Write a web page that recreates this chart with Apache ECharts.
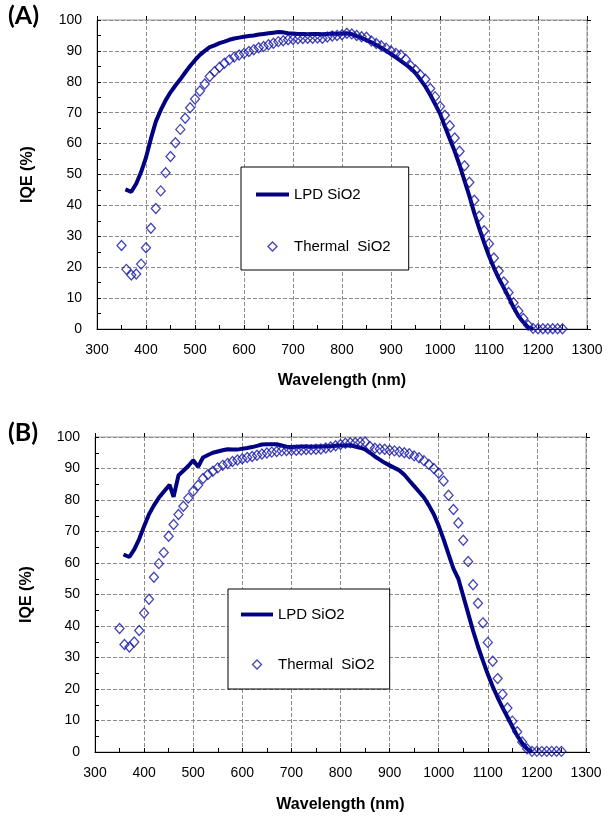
<!DOCTYPE html>
<html>
<head>
<meta charset="utf-8">
<title>IQE</title>
<script src="https://cdn.jsdelivr.net/npm/echarts@6/dist/echarts.min.js"></script>
<style>
  html, body { margin: 0; background: #fff; }
  #chart { width: 616px; height: 820px; }
</style>
</head>
<body>
<div id="chart"></div>
<script>
// wavelengths (nm) of the thermal oxide points, shared by both panels
const thermalWave = [
  350, 360, 370, 380, 390, 400, 410, 420, 430, 440, 450, 460, 470, 480, 490,
  500, 510, 520, 530, 540, 550, 560, 570, 580, 590, 600, 610, 620, 630, 640,
  650, 660, 670, 680, 690, 700, 710, 720, 730, 740, 750, 760, 770, 780, 790,
  800, 810, 820, 830, 840, 850, 860, 870, 880, 890, 900, 910, 920, 930, 940,
  950, 960, 970, 980, 990, 1000, 1010, 1020, 1030, 1040, 1050, 1060, 1070, 1080, 1090,
  1100, 1110, 1120, 1130, 1140, 1150, 1160, 1170, 1180, 1190, 1200, 1210, 1220, 1230, 1240,
  1250
]
// (A) thermal SiO2
const thermalA = [
  27, 19.3, 17.5, 17.8, 21, 26.3, 32.6, 39, 44.7, 50.6, 55.8, 60.3, 64.6, 68.2, 71.6,
  74.4, 77, 79.3, 81.7, 83.3, 84.7, 86, 87.1, 88, 88.7, 89.2, 89.8, 90.4, 91, 91.4,
  92, 92.5, 93, 93.3, 93.6, 93.8, 93.9, 94, 94.1, 94.1, 94.2, 94.1, 94.5, 94.8, 95,
  95.2, 95.7, 95.5, 95, 94.6, 94.4, 93.2, 92.4, 91.7, 90.9, 90, 89.2, 88.7, 87.3, 85.2,
  83.8, 82.2, 80.8, 77.8, 75.2, 72, 69.2, 65.8, 61.8, 57.5, 52.8, 47.5, 41.7, 36.5, 31.8,
  27.6, 23, 18.8, 15.2, 11.8, 8.5, 5.8, 3.4, 1.2, 0.2, 0.1, 0.1, 0.1, 0.1, 0.1,
  0.1
]
// (B) thermal SiO2
const thermalB = [
  39.2, 34.1, 33.3, 34.9, 38.6, 44.1, 48.5, 55.5, 59.8, 63.3, 68.5, 72.2, 75.4, 78, 80.6,
  82.8, 84.7, 86.8, 88.1, 89.1, 90.2, 91, 91.6, 92.2, 92.7, 93.1, 93.5, 93.8, 94.2, 94.6,
  94.9, 95.2, 95.4, 95.6, 95.7, 95.8, 95.8, 95.9, 96, 96, 96.1, 96.2, 96.5, 96.8, 97.2,
  97.6, 98, 98.2, 98.2, 98.3, 98.4, 97, 96.4, 96.2, 96.1, 95.8, 95.6, 95.3, 95, 94.7,
  94, 93.4, 92.5, 91.3, 90, 88.5, 86, 81.5, 77, 72.7, 67.2, 60.5, 53.1, 47.2, 41,
  34.8, 28.8, 23.3, 18.3, 14, 9.8, 6.4, 3.2, 1, 0.2, 0.2, 0.2, 0.2, 0.2, 0.2,
  0.2
]

// (A) LPD SiO2 curve
const lpdAWave = [
  358, 370, 380, 390, 400, 410, 420, 430, 440, 450, 460, 470, 480, 490,
  500, 510, 520, 530, 540, 550, 560, 570, 580, 590, 600, 610, 620, 630, 640,
  650, 660, 670, 680, 690, 700, 710, 720, 730, 740, 750, 760, 770, 780, 790,
  800, 810, 820, 830, 840, 850, 860, 870, 880, 890, 900, 910, 920, 930, 940,
  950, 960, 970, 980, 990, 1000, 1010, 1020, 1030, 1040, 1050, 1060, 1070, 1080, 1090,
  1100, 1110, 1120, 1130, 1140, 1150, 1160, 1170, 1180, 1190
]
const lpdAIqe = [
  45.2, 44.4, 47, 50.8, 55.5, 61.6, 67.1, 70.8, 74, 76.6, 78.8, 80.8, 83, 85.1,
  87, 88.7, 90, 91.2, 91.8, 92.5, 93, 93.6, 94, 94.3, 94.6, 94.8, 95, 95.3, 95.5,
  95.7, 95.9, 96.1, 96, 95.7, 95.6, 95.5, 95.5, 95.4, 95.5, 95.5, 95.4, 95.5, 95.6, 95.5,
  95.6, 95.7, 95.4, 94.8, 94.2, 93.5, 92.8, 91.9, 91, 90, 89, 87.9, 86.8, 85.6, 84.4,
  82.8, 80.7, 78.5, 75.8, 72.8, 69.7, 65.5, 61.5, 57.5, 53, 48, 43, 37.5, 32.6, 28,
  23.6, 19.8, 16.4, 13.4, 10.3, 7, 4.2, 2.2, 0.5, 0
]

// (B) LPD SiO2 curve
const lpdBWave = [
  358, 370, 380, 390, 400, 410, 420, 430, 440, 452, 460, 470, 480, 490,
  500, 510, 520, 530, 540, 550, 560, 570, 580, 590, 600, 610, 620, 630, 640,
  650, 660, 670, 680, 690, 700, 710, 720, 730, 740, 750, 760, 770, 780, 790,
  800, 810, 820, 830, 840, 850, 860, 870, 880, 890, 900, 910, 920, 930, 940,
  950, 960, 970, 980, 990, 1000, 1010, 1020, 1030, 1040, 1050, 1060, 1070, 1080, 1090,
  1100, 1110, 1120, 1130, 1140, 1150, 1160, 1170, 1180, 1190
]
const lpdBIqe = [
  62.7, 61.9, 64.3, 67.6, 71.7, 75.5, 78.3, 80.7, 82.6, 84.8, 81, 87.8, 89.3, 90.8,
  92.6, 90.5, 93.5, 94.3, 95, 95.4, 95.8, 96.1, 96, 96, 96.3, 96.5, 96.8, 97.2, 97.6,
  97.7, 97.7, 97.7, 97.3, 96.9, 96.8, 96.9, 97, 97, 96.9, 97, 97, 97.1, 97.1, 97.2,
  97.3, 97.3, 97.4, 97, 96.6, 96.1, 95, 93.8, 92.8, 91.8, 91, 90.2, 89.4, 88, 86.2,
  84.4, 82.6, 80.8, 78.3, 75.5, 71.8, 67.5, 62.8, 58.2, 55, 49.5, 44, 38.5, 33.5, 29,
  24.7, 20.8, 17.3, 14.1, 11.1, 8.1, 5.1, 2.8, 1, 0
]

const lpdName = 'LPD SiO2'
const thermalName = 'Thermal  SiO2'
const xTicks = { min: 300, max: 1300, interval: 100 }
const yTicks = { min: 0, max: 100, interval: 10 }

const font = 'Liberation Sans, Arial, sans-serif'
const lineColor = '#000080'
const diamondColor = '#1414a8'

function pairs(xs, ys) {
  return xs.map((x, i) => [x, ys[i]])
}

// main axis: labels, grid lines, inner minor ticks
function mainAxis(gridIndex, ticks, name, nameGap, margin) {
  return Object.assign({
    type: 'value',
    gridIndex: gridIndex,
    name: name,
    nameLocation: 'middle',
    nameGap: nameGap,
    nameTextStyle: { fontFamily: font, fontWeight: 'bold', fontSize: 16, color: '#000' },
    axisLine: { onZero: false, lineStyle: { color: '#000', width: 1 } },
    axisTick: { inside: true, length: 4, lineStyle: { color: '#000' } },
    minorTick: { show: true, splitNumber: 2, length: 4, lineStyle: { color: '#000' } },
    axisLabel: { fontFamily: font, fontSize: 14, color: '#000', margin: margin, formatter: v => String(v) },
    splitLine: { show: true, lineStyle: { color: '#8c8c8c', width: 1, type: [4, 2] } }
  }, ticks)
}

// second axis on top of the first, only to make the major ticks cross the line
function crossAxis(gridIndex, ticks) {
  return Object.assign({
    type: 'value',
    gridIndex: gridIndex,
    axisLine: { show: false, onZero: false },
    axisTick: { show: true, length: 4, lineStyle: { color: '#000' } },
    axisLabel: { show: false },
    splitLine: { show: false }
  }, ticks)
}

function legendAt(left, top, padding, itemWidth, itemGap) {
  return {
    orient: 'vertical',
    left: left,
    top: top,
    padding: padding,
    itemWidth: itemWidth,
    itemHeight: 9,
    itemGap: itemGap,
    symbolKeepAspect: true,
    backgroundColor: '#fff',
    borderColor: '#000',
    borderWidth: 1,
    borderRadius: 0,
    selectedMode: false,
    textStyle: { fontFamily: font, fontSize: 15, color: '#000' },
    data: [
      {
        name: lpdName,
        icon: 'path://M0,0L33,0L33,4L0,4Z',
        itemStyle: { color: lineColor, borderWidth: 0 }
      },
      {
        name: thermalName,
        icon: 'path://M5,0L10,5L5,10L0,5Z',
        itemStyle: { color: 'rgba(255,255,255,0)', borderColor: diamondColor, borderWidth: 1.3 }
      }
    ]
  }
}

function lineSeries(axisIndex, xs, ys) {
  return {
    name: lpdName,
    type: 'line',
    xAxisIndex: axisIndex,
    yAxisIndex: axisIndex,
    data: pairs(xs, ys),
    symbol: 'none',
    lineStyle: { color: lineColor, width: 4 },
    itemStyle: { color: lineColor },
    animation: false,
    z: 2
  }
}

function thermalSeries(axisIndex, ys) {
  return {
    name: thermalName,
    type: 'scatter',
    xAxisIndex: axisIndex,
    yAxisIndex: axisIndex,
    data: pairs(thermalWave, ys),
    symbol: 'diamond',
    symbolSize: [9, 10],
    itemStyle: { color: 'rgba(255,255,255,0)', borderColor: diamondColor, borderWidth: 1.3 },
    animation: false,
    z: 3
  }
}

const chart = echarts.init(document.getElementById('chart'))
chart.setOption({
  backgroundColor: '#fff',
  title: [
    { text: '(A)', left: 8, top: 3, padding: 0, textStyle: { fontFamily: 'Lato, sans-serif', fontWeight: 'bold', fontSize: 25, color: '#000' } },
    { text: '(B)', left: 8, top: 420, padding: 0, textStyle: { fontFamily: 'Lato, sans-serif', fontWeight: 'bold', fontSize: 25, color: '#000' } }
  ],
  grid: [
    { left: 97, top: 20, width: 490, height: 309, show: true, borderColor: '#999', borderWidth: 1 },
    { left: 95, top: 437, width: 491, height: 315, show: true, borderColor: '#999', borderWidth: 1 }
  ],
  xAxis: [
    mainAxis(0, xTicks, 'Wavelength (nm)', 44, 14),
    crossAxis(0, xTicks),
    mainAxis(1, xTicks, 'Wavelength (nm)', 45, 14),
    crossAxis(1, xTicks)
  ],
  yAxis: [
    mainAxis(0, yTicks, 'IQE (%)', 61, 15),
    crossAxis(0, yTicks),
    mainAxis(1, yTicks, 'IQE (%)', 60, 15),
    crossAxis(1, yTicks)
  ],
  legend: [
    legendAt(241, 167, [20, 18, 16, 15], 33, 37),
    legendAt(228, 589, [18, 15, 17, 13], 32, 35)
  ],
  series: [
    lineSeries(0, lpdAWave, lpdAIqe),
    thermalSeries(0, thermalA),
    lineSeries(2, lpdBWave, lpdBIqe),
    thermalSeries(2, thermalB)
  ]
})
</script>
</body>
</html>
